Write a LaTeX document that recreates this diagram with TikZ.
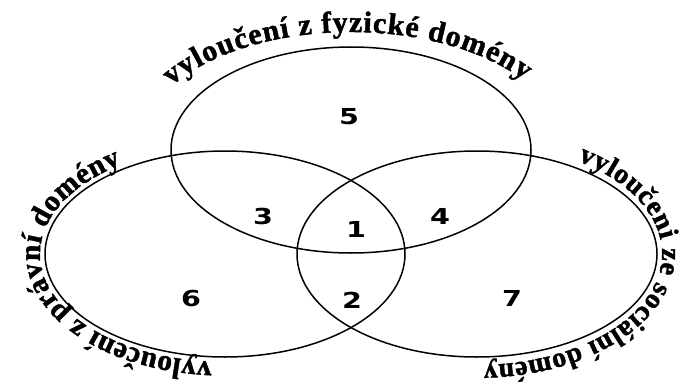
\documentclass[tikz,border=0pt]{standalone}
\usepackage{fontspec}
\usetikzlibrary{shapes.geometric,decorations.text}
\newfontfamily\lblfont[FakeBold=1.5]{Liberation Serif}
\newfontfamily\numfont[FakeStretch=1.3]{DejaVu Sans}
\newcommand\lblfmtA{\lblfont\bfseries\fontsize{30}{30}\selectfont}
\newcommand\lblfmtB{\lblfont\bfseries\fontsize{29.5}{30}\selectfont}
\newcommand\lblfmtC{\lblfont\bfseries\fontsize{28}{30}\selectfont}
\tikzset{
  venn/.style={draw, ellipse, line width=1.5pt, minimum width=360pt, minimum height=206pt, inner sep=0pt},
  num/.style={font=\numfont\bfseries\fontsize{22}{22}\selectfont, inner sep=0pt},
  lbl/.style={decorate, decoration={text along path, text align=fit to path, text={#1}}}
}
\begin{document}
\begin{tikzpicture}[x=1pt,y=1pt]
\useasboundingbox (0,0) rectangle (684,389);
\node[venn] (T) at (351,239) {};
\node[venn] (L) at (225,135) {};
\node[venn] (R) at (477,135) {};
\node[num] (n5) at (349,272) {5};
\node[num] (n3) at (263,173) {3};
\node[num] (n1) at (356,160) {1};
\node[num] (n4) at (440,173) {4};
\node[num] (n6) at (191,91) {6};
\node[num] (n2) at (352,89) {2};
\node[num] (n7) at (512,91) {7};
\path[lbl={|\lblfmtA|vyloučení z fyzické domény}]
  ([shift={(T.center)}]147:214pt and 118pt) arc[start angle=147, end angle=36, x radius=214pt, y radius=118pt];
\path[lbl={|\lblfmtB|vyloučení z právní domény}]
  ([shift={(L.center)}]266:185pt and 108pt) arc[start angle=266, end angle=124, x radius=185pt, y radius=108pt];
\path[lbl={|\lblfmtC|vyloučeni ze sociální domény}]
  ([shift={(R.center)}]57:185pt and 111pt) arc[start angle=57, end angle=-88, x radius=185pt, y radius=111pt];
\end{tikzpicture}
\end{document}
